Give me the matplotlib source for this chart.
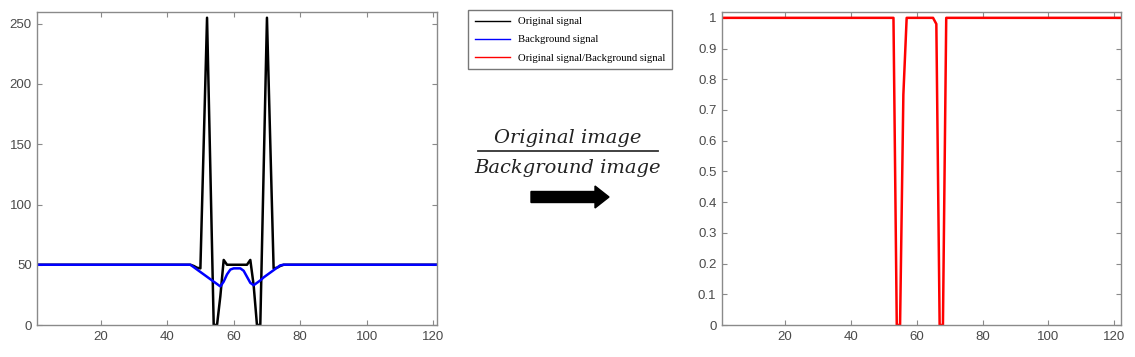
import numpy as np
import matplotlib.pyplot as plt
from matplotlib.patches import FancyArrow

# sample positions 1..122
x = np.arange(1, 123)

# values that differ from the flat baseline
orig_pts = {48: 49, 49: 47.5, 50: 47, 51: 151, 52: 255, 53: 128, 54: 0, 55: 0,
            56: 24, 57: 54, 58: 50, 59: 50, 60: 50, 61: 50, 62: 50, 63: 50,
            64: 50, 65: 54, 66: 33, 67: 0, 68: 0, 69: 128, 70: 255, 71: 151,
            72: 47, 73: 47.5, 74: 49}
back_pts = {48: 48, 49: 46, 50: 44, 51: 42, 52: 40, 53: 38, 54: 36, 55: 34,
            56: 32, 57: 36, 58: 42, 59: 46, 60: 47, 61: 47, 62: 47, 63: 45,
            64: 40, 65: 35, 66: 33, 67: 35, 68: 37, 69: 39.5, 70: 41.5,
            71: 43.5, 72: 45.5, 73: 47.5, 74: 49.5}
ratio_pts = {54: 0, 55: 0, 56: 0.75, 66: 0.98, 67: 0, 68: 0}

original = np.array([orig_pts.get(i, 50) for i in x], dtype=float)
background = np.array([back_pts.get(i, 50) for i in x], dtype=float)
ratio = np.array([ratio_pts.get(i, 1) for i in x], dtype=float)

plt.rcParams['font.family'] = ['Liberation Sans', 'DejaVu Sans']

W, H = 1135, 357
fig = plt.figure(figsize=(W / 100, H / 100), dpi=100)

spine_col = '#8a8a8a'
label_col = '#4a4a4a'


def style(ax):
    for s in ax.spines.values():
        s.set_color(spine_col)
        s.set_linewidth(1.0)
    ax.tick_params(direction='in', top=True, right=True, length=3.5,
                   color=spine_col, labelcolor=label_col, labelsize=9.5, pad=4)
    ax.set_xticks([20, 40, 60, 80, 100, 120])


ax1 = fig.add_axes([37.3 / W, 1 - 325 / H, 399.4 / W, 313.3 / H])
l1, = ax1.plot(x, original, color='black', lw=1.8)
l2, = ax1.plot(x, background, color='#0000ff', lw=1.8)
ax1.set_xlim(1, 121)
ax1.set_ylim(0, 260)
ax1.set_yticks([0, 50, 100, 150, 200, 250])
style(ax1)

ax2 = fig.add_axes([722 / W, 1 - 325 / H, 399 / W, 313.3 / H])
l3, = ax2.plot(x, ratio, color='#ff0000', lw=1.8)
ax2.set_xlim(1, 122)
ax2.set_ylim(0, 1.02)
yt = np.round(np.arange(0, 1.01, 0.1), 1)
ax2.set_yticks(yt)
ax2.set_yticklabels([f'{v:g}' for v in yt])
style(ax2)

leg = fig.legend([l1, l2, l3],
                 ['Original signal', 'Background signal',
                  'Original signal/Background signal'],
                 loc='upper left', bbox_to_anchor=(468 / W, 1 - 10 / H),
                 borderaxespad=0, fancybox=False, edgecolor='#555555',
                 prop={'family': 'Liberation Serif', 'size': 7.7},
                 handlelength=3.3, handletextpad=0.7, labelspacing=0.8,
                 borderpad=0.65)
leg.get_frame().set_linewidth(1.0)
for h in leg.legend_handles:
    h.set_linewidth(1.0)

# middle annotation in pixel coordinates
ov = fig.add_axes([0, 0, 1, 1])
ov.set_xlim(0, W)
ov.set_ylim(H, 0)
ov.axis('off')
ov.text(568, 143, 'Original image', ha='center', va='baseline',
        family='DejaVu Serif', style='italic', fontsize=14, color='#222222')
ov.plot([478, 658], [151, 151], color='#333333', lw=1.3)
ov.text(568, 173, 'Background image', ha='center', va='baseline',
        family='DejaVu Serif', style='italic', fontsize=14, color='#222222')
ov.add_patch(FancyArrow(531, 197, 78, 0, width=11, head_width=22,
                        head_length=14, length_includes_head=True,
                        color='black'))

fig.savefig('out.png', dpi=100)
